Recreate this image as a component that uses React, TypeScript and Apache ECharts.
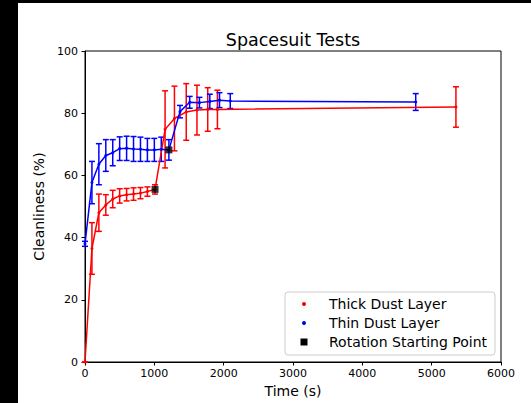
import React, { useEffect, useRef } from "react";
import * as echarts from "echarts";

const thickTime = [0, 100, 200, 300, 400, 500, 600, 700, 800, 900, 1010, 1155, 1290, 1460, 1615, 1770, 1910, 5350];
const thickVal = [0, 36.5, 48, 50.5, 52.4, 53.4, 53.8, 54, 54.3, 54.8, 55.5, 74.8, 78.3, 80.4, 81, 81.2, 81.2, 82];
const thickErr = [0, 8.3, 6, 3.3, 2.8, 2.3, 2, 2, 1.8, 1.5, 1.5, 12.4, 10.4, 9.1, 8, 7, 6.2, 6.5];

const thinTime = [0, 100, 200, 300, 400, 500, 600, 700, 800, 900, 1000, 1100, 1210, 1370, 1510, 1650, 1800, 1940, 2095, 4770];
const thinVal = [38, 57.7, 63.6, 66.4, 67.3, 68.6, 68.7, 68.5, 68.4, 68.2, 68.2, 68.4, 68.2, 80.5, 83.5, 83.4, 83.8, 84.2, 83.9, 83.6];
const thinErr = [0.8, 6.8, 6.6, 5.1, 4.2, 3.8, 3.9, 4, 3.9, 3.7, 3.7, 3.9, 3.3, 2, 1.9, 1.7, 2.3, 2.4, 2.4, 2.7];

const rotationTime = [1010, 1210];
const rotationVal = [55.5, 68.2];

const xTicks = [0, 1000, 2000, 3000, 4000, 5000, 6000];
const yTicks = [0, 20, 40, 60, 80, 100];

const legendNames = ["Thick Dust Layer", "Thin Dust Layer", "Rotation Starting Point"];

const FONT = "DejaVu Sans";

function errorSeries(times: number[], vals: number[], errs: number[], color: string) {
  return {
    type: "custom",
    silent: true,
    z: 2,
    data: times.map((t, i) => [t, vals[i] - errs[i], vals[i] + errs[i]]),
    renderItem: (params: any, api: any) => {
      const lo = api.coord([api.value(0), api.value(1)]);
      const hi = api.coord([api.value(0), api.value(2)]);
      const w = 3;
      const st = { stroke: color, lineWidth: 1.5 };
      return {
        type: "group",
        children: [
          { type: "line", shape: { x1: lo[0], y1: lo[1], x2: hi[0], y2: hi[1] }, style: st },
          { type: "line", shape: { x1: lo[0] - w, y1: lo[1], x2: lo[0] + w, y2: lo[1] }, style: st },
          { type: "line", shape: { x1: hi[0] - w, y1: hi[1], x2: hi[0] + w, y2: hi[1] }, style: st },
        ],
      };
    },
  };
}

export default function App() {
  const ref = useRef<HTMLDivElement>(null);
  useEffect(() => {
    if (!ref.current) return;
    const chart = echarts.init(ref.current, undefined, { renderer: "svg" });
    const legX = 285;
    const legY = 292;
    const rows = [304, 323, 342];
    chart.setOption({
      animation: false,
      backgroundColor: "#fff",
      title: {
        text: "Spacesuit Tests",
        left: 288,
        top: 26,
        textAlign: "center",
        textStyle: { fontFamily: FONT, fontSize: 17.5, fontWeight: "normal", color: "#000" },
      },
      grid: {
        left: 85,
        right: 30,
        top: 51,
        bottom: 41,
        show: true,
        borderColor: "#000",
        borderWidth: 1,
        containLabel: false,
      },
      xAxis: {
        type: "value",
        min: 0,
        max: 6000,
        interval: 1000,
        name: "Time (s)",
        nameLocation: "middle",
        nameGap: 22,
        nameTextStyle: { fontFamily: FONT, fontSize: 14, color: "#000" },
        axisLine: { show: true, lineStyle: { color: "#000", width: 1 } },
        axisTick: { show: true, length: 3.5, lineStyle: { color: "#000" } },
        axisLabel: {
          fontFamily: FONT,
          fontSize: 11,
          color: "#000",
          margin: 6,
          customValues: xTicks,
          formatter: (v: number) => String(v),
        },
        splitLine: { show: false },
      },
      yAxis: {
        type: "value",
        min: 0,
        max: 100,
        interval: 20,
        name: "Cleanliness (%)",
        nameLocation: "middle",
        nameGap: 32,
        nameTextStyle: { fontFamily: FONT, fontSize: 14, color: "#000" },
        axisLine: { show: true, lineStyle: { color: "#000", width: 1 } },
        axisTick: { show: true, length: 3.5, lineStyle: { color: "#000" } },
        axisLabel: {
          fontFamily: FONT,
          fontSize: 11,
          color: "#000",
          margin: 7,
          customValues: yTicks,
          formatter: (v: number) => String(v),
        },
        splitLine: { show: false },
      },
      series: [
        errorSeries(thickTime, thickVal, thickErr, "#ff0000"),
        errorSeries(thinTime, thinVal, thinErr, "#0000ff"),
        {
          name: legendNames[0],
          type: "line",
          z: 3,
          data: thickTime.map((t, i) => [t, thickVal[i]]),
          symbol: "circle",
          symbolSize: 3,
          showSymbol: true,
          itemStyle: { color: "#ff0000" },
          lineStyle: { color: "#ff0000", width: 1.5 },
        },
        {
          name: legendNames[1],
          type: "line",
          z: 3,
          data: thinTime.map((t, i) => [t, thinVal[i]]),
          symbol: "circle",
          symbolSize: 3,
          showSymbol: true,
          itemStyle: { color: "#0000ff" },
          lineStyle: { color: "#0000ff", width: 1.5 },
        },
        {
          name: legendNames[2],
          type: "scatter",
          z: 5,
          data: rotationTime.map((t, i) => [t, rotationVal[i]]),
          symbol: "rect",
          symbolSize: 7,
          itemStyle: { color: "#000" },
        },
      ],
      graphic: [
        { type: "rect", left: 0, top: 0, shape: { x: 0, y: 0, width: 18, height: 403 }, style: { fill: "#000" }, z: 100 },
        { type: "rect", left: 0, top: 0, shape: { x: 0, y: 0, width: 531, height: 3 }, style: { fill: "#000" }, z: 100 },
        {
          type: "group",
          z: 100,
          children: [
            {
              type: "rect",
              shape: { x: legX, y: legY, width: 210, height: 63, r: 3 },
              style: { fill: "rgba(255,255,255,0.85)", stroke: "#cccccc", lineWidth: 1 },
            },
            { type: "circle", shape: { cx: 304, cy: rows[0], r: 2 }, style: { fill: "#ff0000" } },
            { type: "circle", shape: { cx: 304, cy: rows[1], r: 2 }, style: { fill: "#0000ff" } },
            { type: "rect", shape: { x: 300.5, y: rows[2] - 3.5, width: 7, height: 7 }, style: { fill: "#000" } },
            ...legendNames.map((n, i) => ({
              type: "text",
              x: 329,
              y: rows[i],
              style: {
                text: n,
                fill: "#000",
                font: `14px "${FONT}"`,
                textVerticalAlign: "middle",
                verticalAlign: "middle",
              },
            })),
          ],
        },
      ],
    });
    return () => chart.dispose();
  }, []);
  return (
    <div
      ref={ref}
      style={{ position: "fixed", left: 0, top: 0, width: 531, height: 403, background: "#fff" }}
    />
  );
}
